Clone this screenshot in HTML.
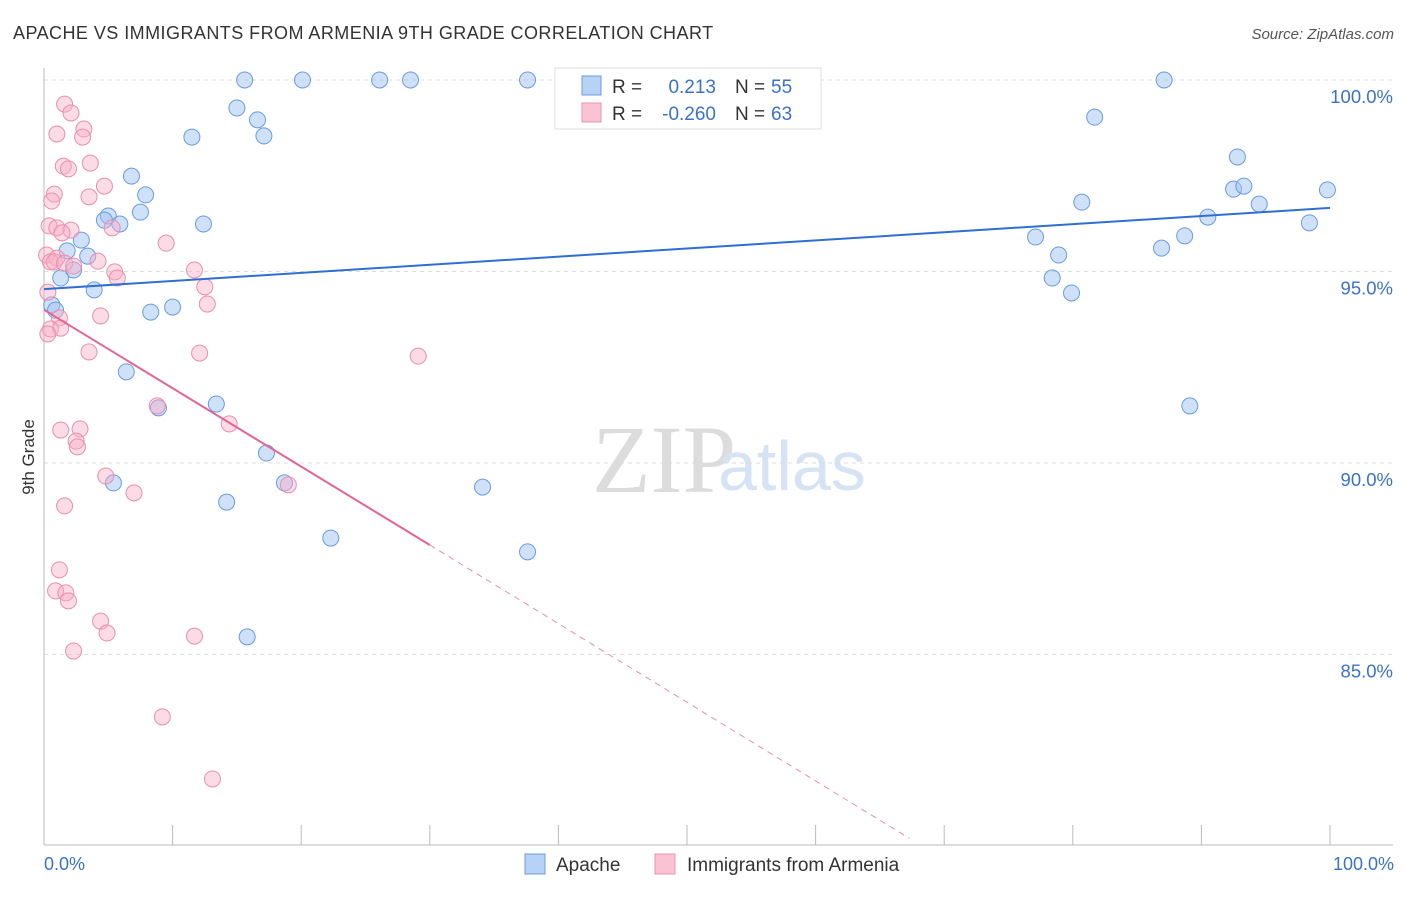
<!DOCTYPE html>
<html><head><meta charset="utf-8"><style>
body{margin:0;background:#fff;font-family:"Liberation Sans",sans-serif}
</style></head><body>
<svg width="1406" height="892" xmlns="http://www.w3.org/2000/svg">
<text x="13" y="39" font-size="18" letter-spacing="0.45" fill="#333">APACHE VS IMMIGRANTS FROM ARMENIA 9TH GRADE CORRELATION CHART</text>
<text x="1394" y="39" font-size="15" fill="#555" font-style="italic" text-anchor="end">Source: ZipAtlas.com</text>
<text x="592" y="492" font-size="96" fill="#dcdcdc" font-family="Liberation Serif,serif">ZIP</text>
<text x="718" y="490" font-size="70" fill="#d6e3f5">atlas</text>
<g id="grid"></g>
<g id="axes"></g>
<g id="pts"></g>
<g id="lines"></g>
<text x="34" y="457" font-size="17" fill="#333" transform="rotate(-90 34 457)" text-anchor="middle">9th Grade</text>
<g>
<rect x="555" y="68" width="266" height="61" fill="#fff" stroke="#ddd"/>
<rect x="582" y="76" width="19" height="19" fill="#b7d2f4" stroke="#6a9be0"/>
<rect x="582" y="103" width="19" height="19" fill="#f9c3d3" stroke="#ea93b0"/>
<text x="612" y="93" font-size="19" fill="#333">R =</text>
<text x="716" y="93" font-size="19" fill="#3a72c8" text-anchor="end">0.213</text>
<text x="735" y="93" font-size="19" fill="#333">N =</text>
<text x="771" y="93" font-size="19" fill="#3a72c8">55</text>
<text x="612" y="120" font-size="19" fill="#333">R =</text>
<text x="716" y="120" font-size="19" fill="#3a72c8" text-anchor="end">-0.260</text>
<text x="735" y="120" font-size="19" fill="#333">N =</text>
<text x="771" y="120" font-size="19" fill="#3a72c8">63</text>
</g>
<g>
<rect x="525" y="854" width="20" height="20" fill="#b7d2f4" stroke="#6a9be0"/>
<text x="556" y="871" font-size="19" fill="#333">Apache</text>
<rect x="655" y="854" width="20" height="20" fill="#f9c3d3" stroke="#ea93b0"/>
<text x="687" y="871" font-size="19" fill="#333">Immigrants from Armenia</text>
</g>
<text x="44" y="870" font-size="18" fill="#3a72c8">0.0%</text>
<text x="1394" y="870" font-size="18" fill="#3a72c8" text-anchor="end">100.0%</text>
</svg>
<script>
const yTicks=[100,95,90,85];
const yTickLabels=["100.0%","95.0%","90.0%","85.0%"];
const apacheX=[15.6,20.1,26.1,28.5,37.6,42.8,87.1,15.0,11.5,16.6,17.1,6.8,7.9,7.5,5.0,4.7,5.9,12.4,2.9,1.8,3.4,2.3,1.3,3.9,0.6,0.9,8.3,10.0,6.4,8.9,13.4,17.3,5.4,14.2,18.7,22.3,34.1,37.6,15.8,81.7,92.8,92.5,93.3,99.8,94.5,90.5,80.7,98.4,77.1,88.7,86.9,78.9,78.4,79.9,89.1];
const apacheY=[100,100,100,100,100,100,100,99.27,98.51,98.96,98.54,97.49,97.0,96.55,96.45,96.34,96.24,96.24,95.82,95.54,95.40,95.04,94.83,94.52,94.13,93.99,93.94,94.07,92.38,91.44,91.54,90.26,89.48,88.98,89.48,88.04,89.37,87.68,85.46,99.03,97.99,97.15,97.23,97.13,96.76,96.42,96.81,96.27,95.90,95.93,95.61,95.43,94.83,94.44,91.49];
const armX=[1.6,2.1,3.1,1.0,3.0,3.6,1.5,1.9,4.7,0.8,0.6,3.5,0.4,1.0,2.1,1.4,5.3,9.5,0.2,1.0,0.5,0.8,1.6,2.3,4.2,5.5,5.7,11.7,12.5,12.7,0.3,1.2,4.4,0.5,1.3,0.3,3.5,12.1,29.1,8.8,14.4,1.3,2.8,2.5,2.6,4.8,7.0,19.0,1.6,1.2,0.9,1.7,1.9,4.4,4.9,11.7,2.3,9.2,13.1];
const armY=[99.37,99.14,98.72,98.59,98.51,97.83,97.75,97.68,97.23,97.02,96.84,96.95,96.19,96.14,96.08,96.01,96.14,95.74,95.43,95.35,95.25,95.25,95.22,95.14,95.27,94.99,94.83,95.04,94.60,94.15,94.46,93.79,93.84,93.50,93.52,93.37,92.90,92.87,92.79,91.49,91.02,90.86,90.89,90.57,90.42,89.66,89.22,89.43,88.88,87.21,86.66,86.61,86.40,85.87,85.56,85.48,85.09,83.37,81.75];
const apacheTrend=[[0,94.54],[100,96.66]];
const armTrendSolid=[[0,94.0],[30,87.86]];
const armTrendDash=[[30,87.86],[67.3,80.2]];
const NS="http://www.w3.org/2000/svg";
const sx=v=>44+v*12.86, sy=v=>80+(100-v)*38.3;
function mk(t,a,p){const e=document.createElementNS(NS,t);for(const k in a)e.setAttribute(k,a[k]);document.getElementById(p).appendChild(e);return e;}
yTicks.forEach((t,i)=>{
 const l=mk('line',{x1:44,x2:1393,y1:sy(t),y2:sy(t),stroke:'#ddd','stroke-dasharray':'4,4'},'grid');
 
 
 const tx=mk('text',{x:1393,y:sy(t)+23,'font-size':18.5,fill:'#3a72c8','text-anchor':'end'},'grid');
 tx.textContent=yTickLabels[i];
 
 
});
const ax=mk('line',{x1:44,x2:44,y1:68,y2:845,stroke:'#bbb'},'axes');


const bx=mk('line',{x1:44,x2:1393,y1:845,y2:845,stroke:'#bbb'},'axes');


for(let i=0;i<=10;i++){const t=mk('line',{x1:sx(i*10),x2:sx(i*10),y1:825,y2:845,stroke:'#bbb'},'axes');
 
 }
apacheX.forEach((x,i)=>{const c=mk('circle',{cx:sx(x),cy:sy(apacheY[i]),r:8,fill:'rgba(160,195,240,0.5)',stroke:'#6a9be0','stroke-width':1},'pts');
 
 });
armX.forEach((x,i)=>{const c=mk('circle',{cx:sx(x),cy:sy(armY[i]),r:8,fill:'rgba(246,175,198,0.45)',stroke:'#e98fae','stroke-width':1},'pts');
 
 });
const l1=mk('line',{x1:sx(apacheTrend[0][0]),y1:sy(apacheTrend[0][1]),x2:sx(apacheTrend[1][0]),y2:sy(apacheTrend[1][1]),stroke:'#2f6fcf','stroke-width':2},'lines');


const l2=mk('line',{x1:sx(armTrendSolid[0][0]),y1:sy(armTrendSolid[0][1]),x2:sx(armTrendSolid[1][0]),y2:sy(armTrendSolid[1][1]),stroke:'#e46593','stroke-width':2},'lines');


const l3=mk('line',{x1:sx(armTrendDash[0][0]),y1:sy(armTrendDash[0][1]),x2:sx(armTrendDash[1][0]),y2:sy(armTrendDash[1][1]),stroke:'#e98fae','stroke-width':1,'stroke-dasharray':'6,5'},'lines');


</script>
</body></html>
